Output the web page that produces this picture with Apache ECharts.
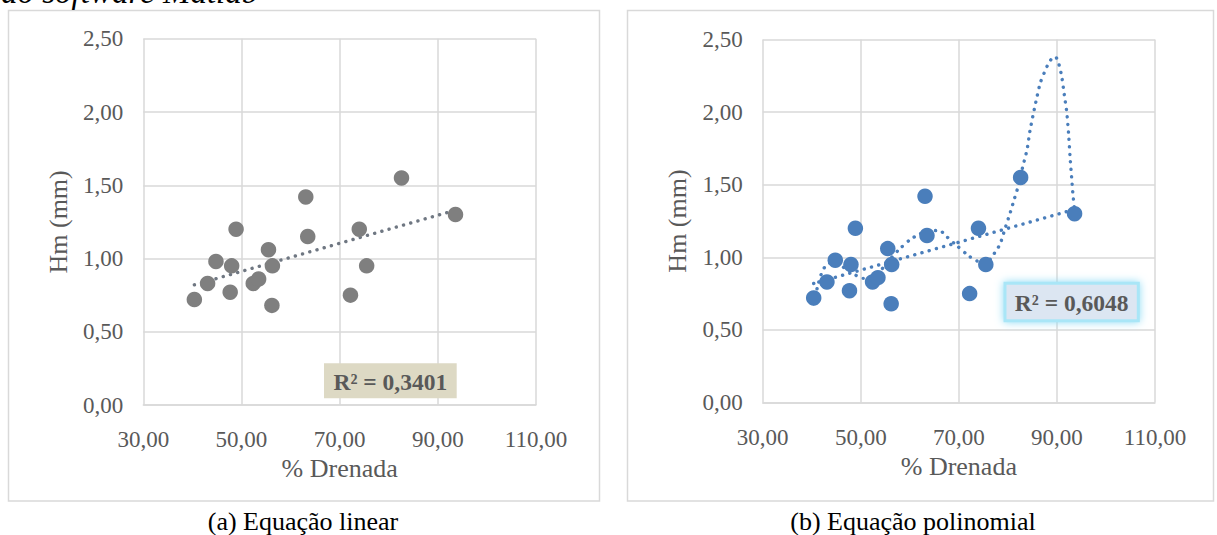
<!DOCTYPE html>
<html>
<head>
<meta charset="utf-8">
<script src="https://cdn.jsdelivr.net/npm/echarts/dist/echarts.min.js"></script>
<style>
html,body{margin:0;padding:0;background:#fff;}
#c{width:1217px;height:535px;}
</style>
</head>
<body>
<div id="c"></div>
<script>
// Data
const drenada = [40.4, 43.1, 44.8, 47.7, 48.0, 48.9, 52.4, 53.5, 55.5, 56.3, 56.2, 63.1, 63.5, 72.2, 74.0, 75.5, 82.6, 93.6];
const hm      = [0.72, 0.83, 0.98, 0.77, 0.95, 1.20, 0.83, 0.86, 1.06, 0.95, 0.68, 1.42, 1.15, 0.75, 1.20, 0.95, 1.55, 1.30];
const linearTrendX = [40.4, 93.6];
const linearTrendY = [0.82, 1.33];
const polyTrendX = [40.4, 41.2, 41.9, 42.6, 43.6, 44.8, 46.0, 47.5, 48.8, 50.5, 52.0, 53.5, 54.6, 56.3, 58.0, 60.0, 62.0, 64.0, 66.0, 67.6, 69.6, 72.0, 73.7, 75.4, 76.5, 77.4, 78.4, 79.4, 80.5, 81.3, 82.2, 83.0, 83.9, 84.5, 85.2, 85.9, 86.6, 87.4, 88.2, 89.0, 89.7, 90.4, 91.0, 91.5, 92.0, 92.4, 92.7, 93.0, 93.3, 93.6];
const polyTrendY = [0.68, 0.80, 0.88, 0.93, 0.96, 0.96, 0.94, 0.91, 0.88, 0.855, 0.86, 0.89, 0.93, 1.00, 1.06, 1.12, 1.16, 1.18, 1.185, 1.14, 1.08, 1.01, 0.975, 0.957, 0.99, 1.036, 1.09, 1.196, 1.31, 1.40, 1.50, 1.62, 1.74, 1.87, 1.99, 2.10, 2.20, 2.27, 2.33, 2.37, 2.38, 2.33, 2.24, 2.12, 2.00, 1.84, 1.68, 1.55, 1.42, 1.33];
const xTicks = {min: 30, max: 110, interval: 20};
const yTicks = {min: 0, max: 2.5, interval: 0.5};
const xName = '% Drenada';
const yName = 'Hm (mm)';
const r2a = 'R² = 0,3401';
const r2b = 'R² = 0,6048';
const captionA = '(a) Equação linear';
const captionB = '(b) Equação polinomial';
const topText = 'do software Matlab';

const pairs = (xs, ys) => xs.map((x, i) => [x, ys[i]]);
const fmt = v => v.toFixed(2).replace('.', ',');
const FONT = '"Liberation Serif", "Times New Roman", serif';
const TXT = '#595959';
const GRID = '#d9d9d9';

function xAxis(gi) {
  return {
    gridIndex: gi, type: 'value', min: xTicks.min, max: xTicks.max, interval: xTicks.interval,
    name: xName, nameLocation: 'middle', nameGap: 50,
    nameTextStyle: {fontFamily: FONT, fontSize: 26, color: TXT},
    axisLine: {show: true, lineStyle: {color: GRID, width: 1.5}},
    axisTick: {show: false},
    axisLabel: {formatter: fmt, fontFamily: FONT, fontSize: 23, color: TXT, margin: 23},
    splitLine: {show: true, lineStyle: {color: GRID, width: 1.5}}
  };
}
function yAxis(gi) {
  return {
    gridIndex: gi, type: 'value', min: yTicks.min, max: yTicks.max, interval: yTicks.interval,
    name: yName, nameLocation: 'middle', nameGap: 72, nameRotate: 90,
    nameTextStyle: {fontFamily: FONT, fontSize: 26, color: TXT},
    axisLine: {show: false},
    axisTick: {show: false},
    axisLabel: {formatter: fmt, fontFamily: FONT, fontSize: 23, color: TXT, margin: 20},
    splitLine: {show: true, lineStyle: {color: GRID, width: 1.5}}
  };
}
const dotted = (color) => ({color: color, width: 3.4, type: [0.1, 7.4], cap: 'round'});

const chart = echarts.init(document.getElementById('c'), null, {renderer: 'svg'});
chart.setOption({
  animation: false,
  backgroundColor: '#fff',
  grid: [
    {left: 143.3, top: 38.8, width: 392.7, height: 366.2},
    {left: 762.7, top: 39.5, width: 392.3, height: 363}
  ],
  xAxis: [xAxis(0), xAxis(1)],
  yAxis: [yAxis(0), yAxis(1)],
  series: [
    {type: 'line', xAxisIndex: 0, yAxisIndex: 0, data: pairs(linearTrendX, linearTrendY),
     symbol: 'none', lineStyle: dotted('#6f7782'), z: 2, silent: true},
    {type: 'scatter', xAxisIndex: 0, yAxisIndex: 0, data: pairs(drenada, hm),
     symbolSize: 15.5, itemStyle: {color: '#7f7f7f', opacity: 1}, z: 3},
    {type: 'line', xAxisIndex: 1, yAxisIndex: 1, data: pairs(linearTrendX, linearTrendY),
     symbol: 'none', lineStyle: dotted('#4a7ebb'), z: 2, silent: true},
    {type: 'line', xAxisIndex: 1, yAxisIndex: 1, data: pairs(polyTrendX, polyTrendY),
     symbol: 'none', smooth: 0.25, lineStyle: dotted('#4a7ebb'), z: 2, silent: true},
    {type: 'scatter', xAxisIndex: 1, yAxisIndex: 1, data: pairs(drenada, hm),
     symbolSize: 15.5, itemStyle: {color: '#4a7ebb', opacity: 1}, z: 3}
  ],
  graphic: [
    {type: 'rect', shape: {x: 8.5, y: 10.5, width: 591, height: 490.5}, style: {fill: 'none', stroke: GRID, lineWidth: 1.5}, z: -1},
    {type: 'rect', shape: {x: 627.5, y: 10.5, width: 586, height: 490.5}, style: {fill: 'none', stroke: GRID, lineWidth: 1.5}, z: -1},
    {type: 'text', x: 1, y: -8.5, style: {text: topText, font: 'italic 33px ' + FONT, fill: '#000', textAlign: 'left', textVerticalAlign: 'middle'}},
    {type: 'text', x: 303, y: 521, style: {text: captionA, font: '26px ' + FONT, fill: '#000', textAlign: 'center', textVerticalAlign: 'middle'}},
    {type: 'text', x: 913, y: 521, style: {text: captionB, font: '26px ' + FONT, fill: '#000', textAlign: 'center', textVerticalAlign: 'middle'}},
    {type: 'rect', shape: {x: 324, y: 363.3, width: 132.7, height: 35}, style: {fill: '#ddd9c4'}, z: 10},
    {type: 'text', x: 390.3, y: 381.5, style: {text: r2a, font: 'bold 23.5px ' + FONT, fill: TXT, textAlign: 'center', textVerticalAlign: 'middle'}, z: 11},
    {type: 'rect', shape: {x: 1005, y: 283.3, width: 133.3, height: 37.4}, style: {fill: '#dce6f2', stroke: '#a9e6f7', lineWidth: 3, shadowBlur: 8, shadowColor: '#8fdcf5'}, z: 10},
    {type: 'text', x: 1071.7, y: 302.5, style: {text: r2b, font: 'bold 23.5px ' + FONT, fill: TXT, textAlign: 'center', textVerticalAlign: 'middle'}, z: 11}
  ]
});
</script>
</body>
</html>
